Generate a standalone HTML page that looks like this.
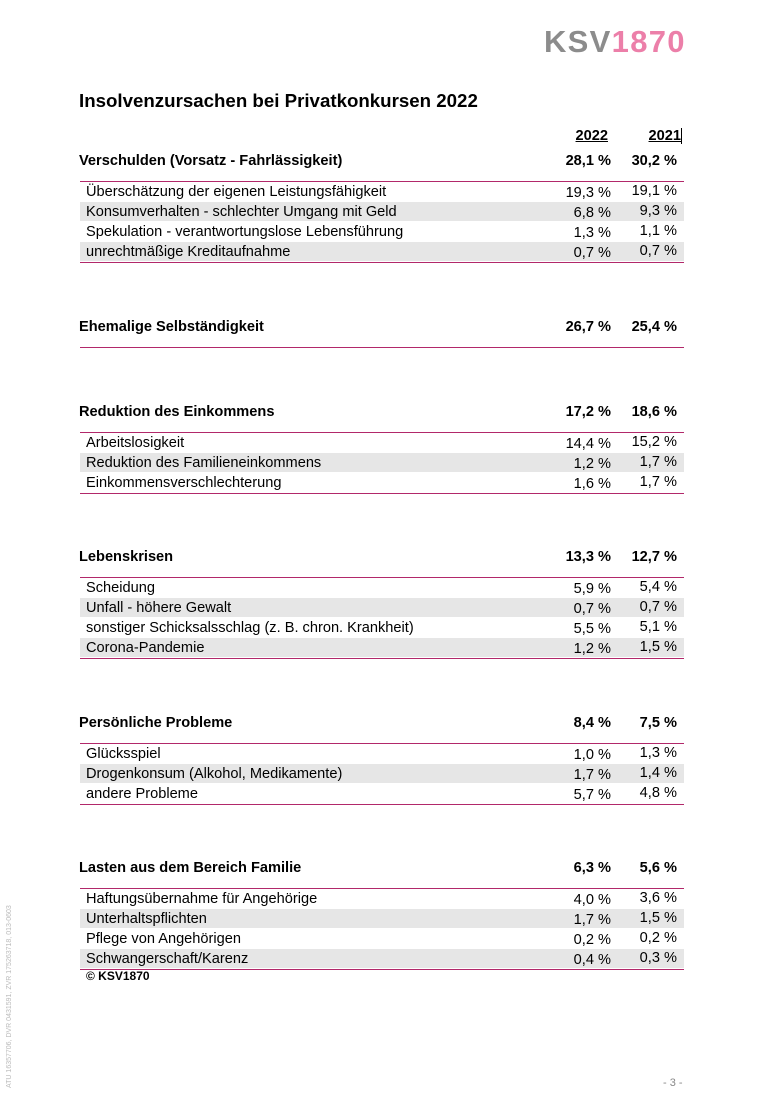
<!DOCTYPE html>
<html><head><meta charset="utf-8">
<style>
body{margin:0;background:#fff;}
#page{position:relative;width:769px;height:1104px;overflow:hidden;font-family:"Liberation Sans",Arial,sans-serif;color:#000;}
.a{position:absolute;white-space:nowrap;line-height:20px;}
.h{font-weight:bold;font-size:14.6px;}
.r{font-size:14.6px;}
.band{position:absolute;left:80px;width:604px;height:19px;background:#e6e6e6;}
.ln{position:absolute;left:80px;width:604px;height:1px;background:#b2286a;}
.v1{text-align:right;width:80px;left:531px;}
.v2{text-align:right;width:80px;left:597px;}
</style></head><body>
<div id="page">
<div class="a" style="left:544px;top:22px;line-height:40px;font-size:31px;font-weight:bold;letter-spacing:1.3px"><span style="color:#8c8c8c">KSV</span><span style="color:#ec7fa9">1870</span></div>
<div class="a" style="left:79px;top:90px;font-size:18.7px;font-weight:bold;line-height:22px">Insolvenzursachen bei Privatkonkursen 2022</div>
<div class="a h v1" style="top:126px;text-decoration:underline;left:528px">2022</div>
<div class="a h v2" style="top:126px;text-decoration:underline;left:601px">2021</div>
<div class="a" style="left:681px;top:128px;width:1px;height:16px;background:#000"></div>
<div id="tbl"></div>
<div class="a" style="left:86px;top:967px;font-size:12px;font-weight:bold;line-height:18px">© KSV1870</div>
<div class="a" style="left:663px;top:1073px;font-size:11px;color:#888">- 3 -</div>
<div class="a" style="left:-80px;top:993px;font-size:7px;color:#bbb;transform:rotate(-90deg);transform-origin:center;width:180px;text-align:center;line-height:10px">ATU 16357706, DVR 0431591, ZVR 175263718, 013-0603</div>
</div>
<script>
const sectionNames=["Verschulden (Vorsatz - Fahrlässigkeit)","Ehemalige Selbständigkeit","Reduktion des Einkommens","Lebenskrisen","Persönliche Probleme","Lasten aus dem Bereich Familie"];
const section2022=["28,1 %","26,7 %","17,2 %","13,3 %","8,4 %","6,3 %"];
const section2021=["30,2 %","25,4 %","18,6 %","12,7 %","7,5 %","5,6 %"];
const sectionTops=[151,317,402,547,713,858];
const rowLabels=[
["Überschätzung der eigenen Leistungsfähigkeit","Konsumverhalten - schlechter Umgang mit Geld","Spekulation - verantwortungslose Lebensführung","unrechtmäßige Kreditaufnahme"],
[],
["Arbeitslosigkeit","Reduktion des Familieneinkommens","Einkommensverschlechterung"],
["Scheidung","Unfall - höhere Gewalt","sonstiger Schicksalsschlag (z. B. chron. Krankheit)","Corona-Pandemie"],
["Glücksspiel","Drogenkonsum (Alkohol, Medikamente)","andere Probleme"],
["Haftungsübernahme für Angehörige","Unterhaltspflichten","Pflege von Angehörigen","Schwangerschaft/Karenz"]];
const row2022=[["19,3 %","6,8 %","1,3 %","0,7 %"],[],["14,4 %","1,2 %","1,6 %"],["5,9 %","0,7 %","5,5 %","1,2 %"],["1,0 %","1,7 %","5,7 %"],["4,0 %","1,7 %","0,2 %","0,4 %"]];
const row2021=[["19,1 %","9,3 %","1,1 %","0,7 %"],[],["15,2 %","1,7 %","1,7 %"],["5,4 %","0,7 %","5,1 %","1,5 %"],["1,3 %","1,4 %","4,8 %"],["3,6 %","1,5 %","0,2 %","0,3 %"]];
const tbl=document.getElementById('tbl');
function mk(cls,txt,style){const d=document.createElement('div');d.className=cls;if(txt!==null)d.textContent=txt;d.style.cssText=style;tbl.appendChild(d);return d;}
sectionNames.forEach((n,i)=>{
  const t=sectionTops[i];
  let e=mk('a h',n,`left:79px;top:${t}px`);
  
  
  e=mk('a h v1',section2022[i],`top:${t}px`);
  
  
  e=mk('a h v2',section2021[i],`top:${t}px`);
  
  
  e=mk('ln',null,`top:${t+30}px`);
  
  
  const rs=rowLabels[i];
  rs.forEach((r,j)=>{
    const y=t+31+j*20;
    if(j%2===1){e=mk('band',null,`top:${y}px`);
      
      }
    e=mk('a r',r,`left:86px;top:${y}px`);
    
    
    e=mk('a r v1',row2022[i][j],`top:${y+1}px`);
    
    
    e=mk('a r v2',row2021[i][j],`top:${y-1}px`);
    
    
  });
  if(rs.length){e=mk('ln',null,`top:${t+31+rs.length*20}px`);
    
    }
});
</script>
</body></html>
